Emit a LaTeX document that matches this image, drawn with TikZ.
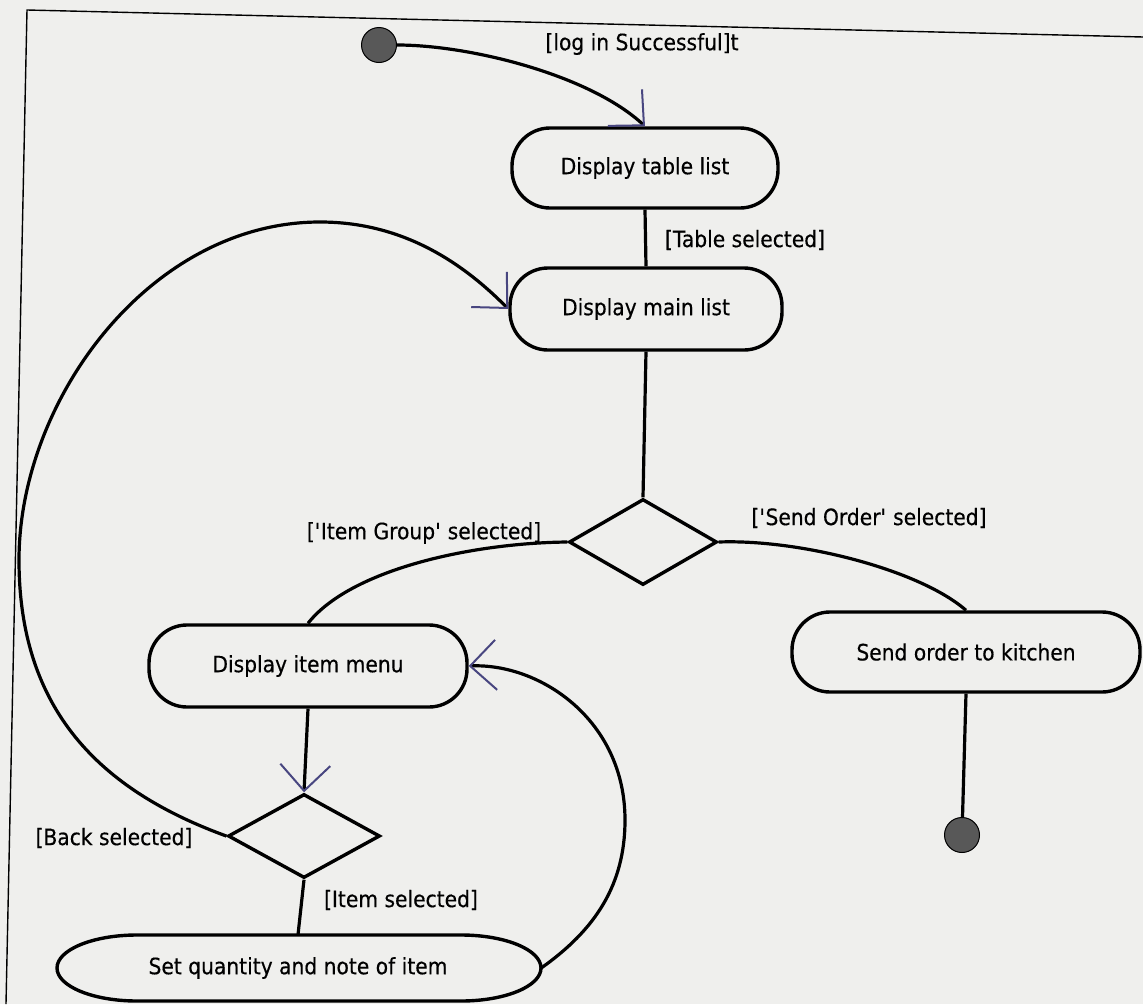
\documentclass[tikz,border=0pt]{standalone}
\usepackage{fontspec}
\setmainfont{DejaVu Sans}[FakeStretch=0.9, FakeBold=0.4]
\usetikzlibrary{arrows.meta,shapes.geometric}
\definecolor{paper}{RGB}{239,239,237}
\definecolor{ink}{RGB}{72,70,128}
\definecolor{dot}{RGB}{88,88,88}
\begin{document}
\begin{tikzpicture}[x=1pt,y=-1pt,
  flow/.style={line width=3.2pt, black},
  arr/.style={flow, -{Straight Barb[length=26pt,width=50pt,line width=2pt,color=ink]}},
  txt/.style={font=\fontsize{22.5}{27}\selectfont},
  action/.style={draw, line width=3.4pt, rectangle, rounded corners=38pt, inner sep=0pt, txt},
  choice/.style={draw, line width=3.4pt, diamond, inner sep=0pt},
  blob/.style={circle, fill=dot, draw=black, line width=1pt, inner sep=0pt, minimum size=35pt},
  guard/.style={inner sep=0pt, txt},
]
\useasboundingbox (0,0) rectangle (1143,1004);
\fill[paper] (0,0) rectangle (1143,1004);
% page frame
\draw[line width=1.4pt] (6,1004) -- (27,10) -- (1143,37);

% activity nodes
\node[blob] (init) at (379,45) {};
\node[action, minimum width=266pt, minimum height=80pt] (table) at (645,168) {Display table list};
\node[action, minimum width=272pt, minimum height=82pt] (main) at (646,309) {Display main list};
\node[choice, minimum width=148pt, minimum height=86pt, aspect=1.72] (d1) at (643,542) {};
\node[action, minimum width=318pt, minimum height=82pt] (item) at (308,666) {Display item menu};
\node[action, minimum width=348pt, minimum height=80pt] (send) at (966,652) {Send order to kitchen};
\node[choice, minimum width=152pt, minimum height=84pt, aspect=1.8] (d2) at (304,836) {};
\node[txt, inner sep=0pt, minimum width=486pt, minimum height=66pt] (setq) at (298,968) {Set quantity and note of item};
\draw[line width=3.4pt] (137,935) -- (461,935)
  arc[start angle=90, end angle=-90, x radius=80pt, y radius=33pt] -- (137,1001)
  arc[start angle=270, end angle=90, x radius=80pt, y radius=33pt] -- cycle;
\node[blob] (final) at (962,835) {};

% guards
\node[guard] (g1) at (642,44) {[log in Successful]t};
\node[guard] (g2) at (745,240) {[Table selected]};
\node[guard] (g3) at (424,533) {[\textquotesingle Item Group\textquotesingle\ selected]};
\node[guard] (g4) at (869,518) {[\textquotesingle Send Order\textquotesingle\ selected]};
\node[guard] (g5) at (114,838) {[Back selected]};
\node[guard] (g6) at (401,900) {[Item selected]};

% transitions
\draw[arr] (init.east) .. controls (470,45) and (590,75) .. (table.north);
\draw[flow] (table.south) -- (main.north);
\draw[flow] (main.south) -- (d1.north);
\draw[flow] (d1.west) .. controls (470,543) and (350,570) .. (item.north);
\draw[flow] (d1.east) .. controls (800,539) and (920,570) .. (send.north);
\draw[flow] (send.south) -- (final);
\draw[arr] (item.south) -- (d2.north);
\draw[flow] (d2.south) -- (setq.north);
\draw[arr] (d2.west) .. controls (100,790) and (19,710) .. (19,560)
  .. controls (19,400) and (150,222) .. (320,222)
  .. controls (400,222) and (460,260) .. (main.west);
\draw[arr] (setq.east) .. controls (595,930) and (625,885) .. (625,820)
  .. controls (625,720) and (540,663) .. (item.east);
\end{tikzpicture}
\end{document}
